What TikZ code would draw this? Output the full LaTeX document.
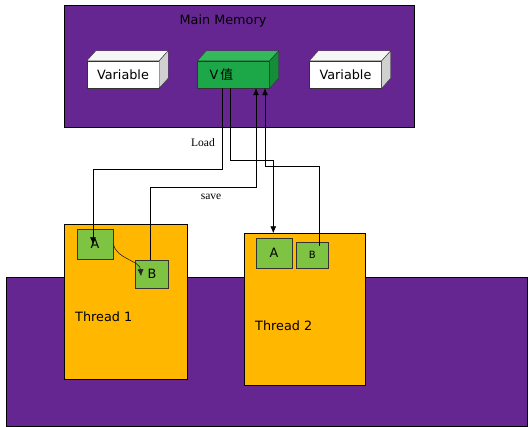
\documentclass[tikz,border=0pt]{standalone}
\usepackage{fontspec}
\setmainfont{DejaVu Sans}
\newfontfamily\loadfont{Liberation Serif}
\newfontfamily\cjk{Noto Sans CJK SC}
\usetikzlibrary{calc}
\usetikzlibrary{arrows.meta}
\definecolor{mempurple}{RGB}{102,38,146}
\definecolor{threadorange}{RGB}{255,183,0}
\definecolor{cellgreen}{RGB}{126,196,66}
\definecolor{vfront}{RGB}{28,167,72}
\definecolor{vtop}{RGB}{52,186,92}
\definecolor{vside}{RGB}{20,140,58}
\definecolor{cubetop}{RGB}{246,246,246}
\definecolor{cubeside}{RGB}{208,208,208}

\begin{document}
\begin{tikzpicture}[x=1pt, y=-1pt, >={Latex[length=7pt,width=6pt]},
 lbl/.style={font=\fontsize{12.8}{15}\selectfont},
 memrect/.style={draw=black, fill=mempurple, inner sep=0},
 cubeface/.style={draw=black!80, lbl, minimum width=72, minimum height=27, inner sep=0},
 thread/.style={draw=black, fill=threadorange, inner sep=0},
 cell/.style={draw=black!80, fill=cellgreen, lbl, inner sep=0},
 wire/.style={black, line width=0.75pt}]
\useasboundingbox (0,0) rectangle (531,427);

% main memory
\node[memrect, minimum width=350, minimum height=122] (mem) at (239,66) {};
\node[lbl, text=black] (memlab) at (223,21) {Main Memory};
\node[cubeface, fill=white] (varL) at (123,74.5) {Variable};
\node[cubeface, fill=vfront, text width=48pt, inner xsep=12pt, align=left] (vval) at (233.5,74.5) {V\,{\cjk 值}};
\node[cubeface, fill=white] (varR) at (345.5,74.5) {Variable};
\foreach \n/\tc/\sc in {varL/cubetop/cubeside, vval/vtop/vside, varR/cubetop/cubeside} {
 \filldraw[draw=black!80, fill=\tc] (\n.north west) -- ([shift={(9,-10)}]\n.north west) -- ([shift={(9,-10)}]\n.north east) -- (\n.north east) -- cycle;
 \filldraw[draw=black!80, fill=\sc] (\n.north east) -- ([shift={(9,-10)}]\n.north east) -- ([shift={(9,-10)}]\n.south east) -- (\n.south east) -- cycle;
}

% threads
\node[memrect, minimum width=521, minimum height=149] (base) at (266.5,351.5) {};
\node[thread, minimum width=122.5, minimum height=154.5] (t1) at (125.75,301.75) {};
\node[thread, minimum width=121, minimum height=152] (t2) at (304.5,309.5) {};
\node[lbl, anchor=west, inner xsep=0] (t1lab) at (75,317) {Thread 1};
\node[lbl, anchor=west, inner xsep=0] (t2lab) at (255,326) {Thread 2};
\node[cell, minimum width=36.6, minimum height=30] (t1A) at (95,244.3) {A};
\node[cell, minimum width=33, minimum height=27.5] (t1B) at (152,274.3) {B};
\node[cell, minimum width=36.6, minimum height=30] (t2A) at (274,253.3) {A};
\node[cell, minimum width=32, minimum height=26, font=\fontsize{10}{12}\selectfont] (t2B) at (312.3,255.3) {B};

% load / save
\node[font=\loadfont\fontsize{11.5}{13}\selectfont] (loadlab) at (203,143) {Load};
\node[font=\loadfont\fontsize{11.5}{13}\selectfont] (savelab) at (211,197) {save};
\draw[wire, ->] ([xshift=-11pt]vval.south) -- ++(0,81.3) -| ([xshift=-2pt]t1A.center);
\draw[wire, ->] ([xshift=-3pt]vval.south) -- ++(0,72.3) -| ([xshift=-31.2pt]t2.north);
\draw[wire, ->] ([xshift=-1.3pt]t1B.north) -- ++(0,-73.3) -| ([xshift=22.5pt]vval.south);
\draw[wire, ->] ([shift={(7,4)}]t2B.north) -- ++(0,-79.6) -| ([xshift=31.5pt]vval.south);
\draw[black!85, line width=0.6pt, ->] (t1A.east) .. controls +(3,15) and +(-1,-16) .. ([shift={(-11,2)}]t1B.center);
\end{tikzpicture}
\end{document}
